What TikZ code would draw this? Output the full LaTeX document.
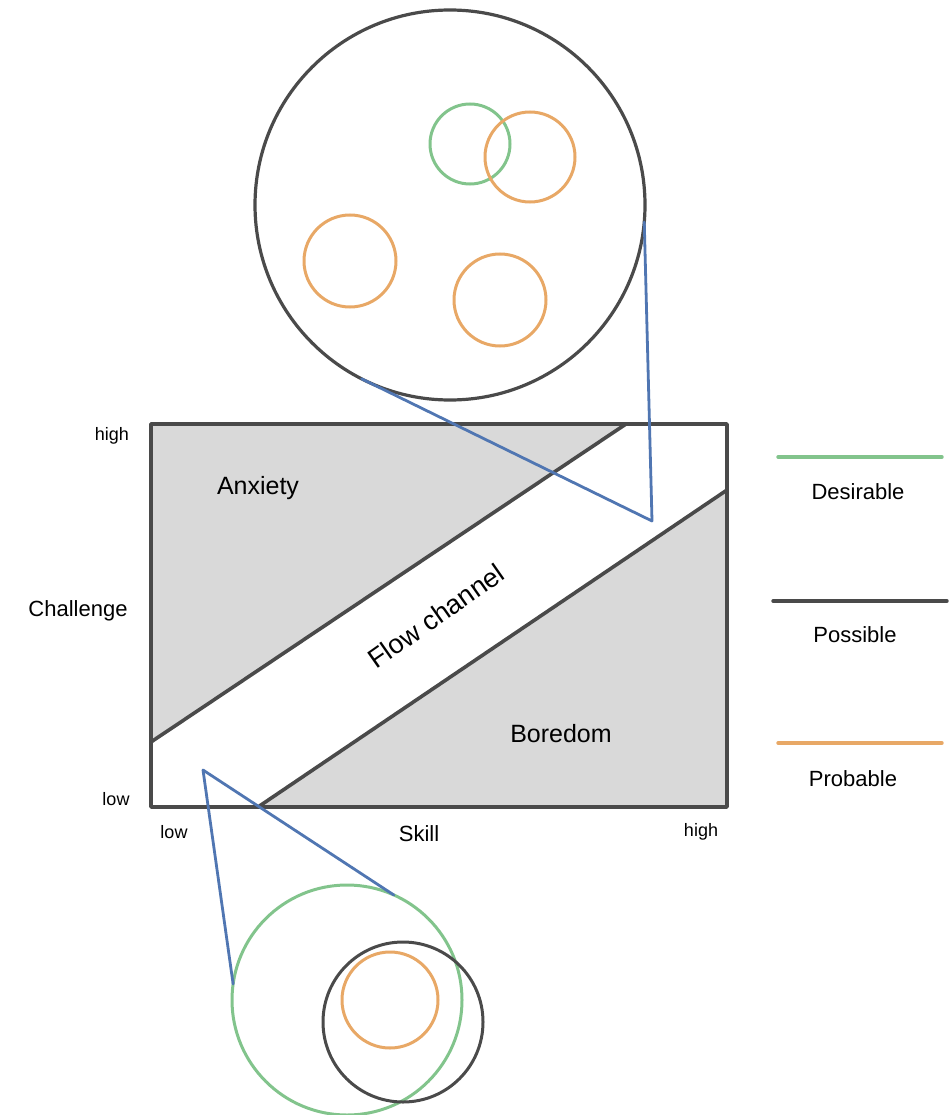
\documentclass[tikz,border=0pt]{standalone}
\usepackage{fontspec}
\setmainfont{Liberation Sans}
\definecolor{inkgrey}{HTML}{4A4A4A}
\definecolor{greyfill}{HTML}{D9D9D9}
\definecolor{desire}{HTML}{82C48C}
\definecolor{likely}{HTML}{E8A866}
\definecolor{zoomblue}{HTML}{5076B2}
\begin{document}
\begin{tikzpicture}[x=1pt,y=-1pt,
  frame/.style={draw=inkgrey,line width=3.4pt,line join=round},
  edge/.style={draw=inkgrey,line width=3.6pt,line cap=round},
  ring/.style={circle,inner sep=0pt,outer sep=0pt,line width=3pt},
  zoomline/.style={draw=zoomblue,line width=2.8pt,line cap=round,line join=round},
  legendline/.style={line width=3.4pt,line cap=round},
  lbl/.style={font=\fontsize{22}{26}\selectfont,inner sep=0pt},
  region/.style={font=\fontsize{25}{30}\selectfont,inner sep=0pt},
  axis/.style={font=\fontsize{18}{22}\selectfont,inner sep=0pt}]
\useasboundingbox (0,0) rectangle (950,1115);

% chart corners and the two diagonal boundaries
\coordinate (bl) at (151,807);
\coordinate (br) at (727,807);
\coordinate (tr) at (727,424);
\coordinate (tl) at (151,424);
\coordinate (a1) at (151,742);
\coordinate (a2) at (626,424);
\coordinate (b1) at (258,807);
\coordinate (b2) at (727,490);

\fill[white] (bl) rectangle (tr);
\fill[greyfill] (tl) -- (a2) -- (a1) -- cycle;
\fill[greyfill] (b1) -- (b2) -- (br) -- cycle;
\draw[edge] (a1) -- (a2);
\draw[edge] (b1) -- (b2);
\draw[frame] (bl) rectangle (tr);

% region labels
\node[region] (anx) at (258,488) {Anxiety};
\node[region] (bore) at (561,734) {Boredom};
\node[font=\fontsize{27}{32}\selectfont,inner sep=0pt,rotate=35] (flow) at (436,616) {Flow channel};

% axis labels
\node[axis] (yhigh) at (112,436) {high};
\node[axis] (ylow) at (116,799) {low};
\node[lbl] (chal) at (78,611) {Challenge};
\node[axis] (xlow) at (174,832) {low};
\node[lbl] (skill) at (419,834) {Skill};
\node[axis] (xhigh) at (701,832) {high};

% magnified views
\node[ring,draw=inkgrey,line width=3.2pt,minimum size=390pt] (top) at (450,205) {};
\node[ring,draw=desire,minimum size=230pt] (lowg) at (347,1000) {};
\node[ring,draw=inkgrey,minimum size=160pt] (lowd) at (403,1022) {};
\node[ring,draw=likely,minimum size=96pt] (lowo) at (390,1000) {};

\node[ring,draw=desire,minimum size=80pt] (tg) at (470,144) {};
\node[ring,draw=likely,minimum size=90pt] (to1) at (530,157) {};
\node[ring,draw=likely,minimum size=92pt] (to2) at (350,261) {};
\node[ring,draw=likely,minimum size=92pt] (to3) at (500,300) {};

% pointers from the chart to the magnified views
\coordinate (ptop) at (652,521);
\coordinate (plow) at (203,770);
\draw[zoomline] (top.243) -- (ptop) -- (top.355);
\draw[zoomline] (lowg.66) -- (plow) -- (lowg.172);

% legend
\coordinate (g1) at (778,457);
\coordinate (g2) at (942,457);
\coordinate (d1) at (773,601);
\coordinate (d2) at (947,601);
\coordinate (o1) at (778,743);
\coordinate (o2) at (942,743);
\draw[legendline,desire] (g1) -- (g2);
\draw[legendline,inkgrey] (d1) -- (d2);
\draw[legendline,likely] (o1) -- (o2);
\node[lbl] (ldes) at (858,492) {Desirable};
\node[lbl] (lpos) at (855,635) {Possible};
\node[lbl] (lpro) at (853,779) {Probable};
\end{tikzpicture}
\end{document}
